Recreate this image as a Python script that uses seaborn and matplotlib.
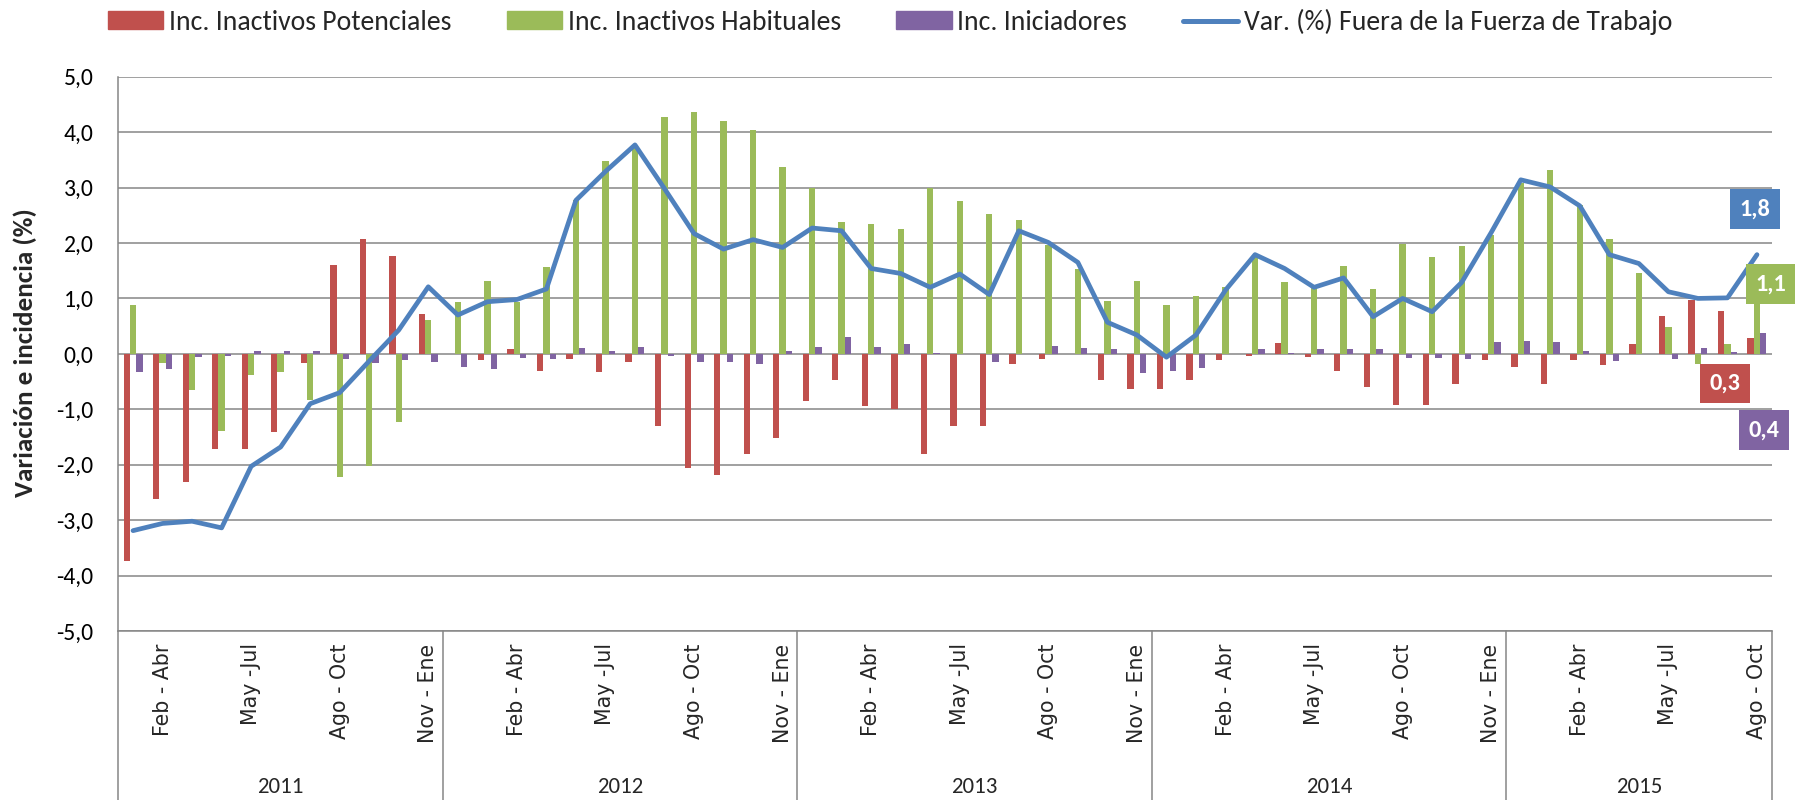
import matplotlib
matplotlib.use("Agg")
import matplotlib.pyplot as plt
import matplotlib.transforms as mtransforms
import numpy as np
import pandas as pd
import seaborn as sns

from matplotlib import font_manager
from matplotlib.lines import Line2D
from matplotlib.patches import Patch


# --- data ---
years = ['2011', '2012', '2013', '2014', '2015']
year_months = ['Dic - Feb', 'Ene - Mar', 'Feb - Abr', 'Mar - May', 'Abr - Jun', 'May -Jul',
               'Jun - Ago', 'Jul - Sep', 'Ago - Oct', 'Sep - Nov', 'Oct - Dic', 'Nov - Ene']
periods_2011 = year_months[1:]
periods_2015 = year_months[:9]

series_names = ['Inc. Inactivos Potenciales', 'Inc. Inactivos Habituales', 'Inc. Iniciadores']
line_name = 'Var. (%) Fuera de la Fuerza de Trabajo'

inc_potenciales = [-3.73, -2.62, -2.32, -1.72, -1.72, -1.41, -0.16, 1.61, 2.08, 1.76, 0.71,
                   0.00, -0.11, 0.08, -0.31, -0.09, -0.32, -0.14, -1.30, -2.06, -2.19, -1.81, -1.52,
                   -0.85, -0.47, -0.94, -0.99, -1.81, -1.30, -1.30, -0.18, -0.09, 0.00, -0.47, -0.64,
                   -0.64, -0.47, -0.11, -0.03, 0.19, -0.06, -0.31, -0.59, -0.92, -0.92, -0.54, -0.11,
                   -0.23, -0.55, -0.11, -0.20, 0.17, 0.69, 0.97, 0.78, 0.28]
inc_habituales = [0.89, -0.16, -0.66, -1.39, -0.38, -0.33, -0.83, -2.22, -2.03, -1.23, 0.61,
                  0.93, 1.32, 0.94, 1.56, 2.77, 3.48, 3.72, 4.28, 4.37, 4.21, 4.04, 3.37,
                  2.99, 2.37, 2.34, 2.25, 2.99, 2.75, 2.52, 2.41, 1.96, 1.53, 0.96, 1.31,
                  0.89, 1.05, 1.20, 1.79, 1.29, 1.20, 1.59, 1.17, 1.99, 1.74, 1.94, 2.14,
                  3.08, 3.32, 2.68, 2.08, 1.45, 0.48, -0.18, 0.18, 1.10]
inc_iniciadores = [-0.33, -0.28, -0.06, -0.04, 0.05, 0.06, 0.06, -0.09, -0.16, -0.12, -0.14,
                   -0.23, -0.28, -0.08, -0.09, 0.11, 0.06, 0.12, -0.03, -0.14, -0.15, -0.18, 0.06,
                   0.12, 0.30, 0.13, 0.17, 0.01, -0.01, -0.15, 0.00, 0.14, 0.11, 0.08, -0.34,
                   -0.31, -0.25, 0.00, 0.08, 0.01, 0.08, 0.09, 0.08, -0.08, -0.07, -0.10, 0.21,
                   0.23, 0.22, 0.06, -0.13, 0.00, -0.09, 0.11, 0.03, 0.38]
var_fuera_ft = [-3.19, -3.06, -3.02, -3.14, -2.03, -1.68, -0.90, -0.70, -0.13, 0.43, 1.21,
                0.70, 0.94, 0.98, 1.17, 2.77, 3.29, 3.77, 2.98, 2.17, 1.89, 2.06, 1.92,
                2.27, 2.22, 1.54, 1.45, 1.20, 1.44, 1.07, 2.22, 2.01, 1.65, 0.57, 0.34,
                -0.06, 0.34, 1.15, 1.79, 1.54, 1.20, 1.37, 0.67, 1.00, 0.76, 1.29, 2.19,
                3.14, 3.01, 2.67, 1.79, 1.63, 1.12, 1.00, 1.01, 1.79]

colors = ['#C0504D', '#9BBB59', '#8064A2']
line_color = '#4F81BD'
grid_color = '#868686'


def pick_font(*names):
    available = {f.name for f in font_manager.fontManager.ttflist}
    for name in names:
        if name in available:
            return name
    return 'DejaVu Sans'


calibri_like = pick_font('Carlito', 'Lato', 'Open Sans')

# periods grouped by year
year_periods = {}
for y in years:
    if y == '2011':
        year_periods[y] = periods_2011
    elif y == '2015':
        year_periods[y] = periods_2015
    else:
        year_periods[y] = year_months

keys, month_labels = [], []
for y in years:
    for p in year_periods[y]:
        keys.append(f'{y} | {p}')
        month_labels.append(p)
n = len(keys)

df = pd.DataFrame({
    'periodo': keys * 3,
    'serie': np.repeat(series_names, n),
    'valor': inc_potenciales + inc_habituales + inc_iniciadores,
})

sns.set_style('white')
plt.rcParams['font.family'] = [calibri_like, 'DejaVu Sans']

fig, ax = plt.subplots(figsize=(18, 8), dpi=100)
fig.subplots_adjust(left=0.0657, right=0.9843, top=0.9041, bottom=0.2113)

sns.barplot(data=df, x='periodo', y='valor', hue='serie', order=keys, hue_order=series_names,
            palette=colors, width=0.645, saturation=1, linewidth=0, errorbar=None,
            legend=False, ax=ax)
sns.lineplot(x=np.arange(n), y=var_fuera_ft, color=line_color, lw=3.4, ax=ax,
             solid_capstyle='round', solid_joinstyle='round')

# y axis
ax.set_ylim(-5, 5)
ax.set_xlim(-0.5, n - 0.5)
yticks = np.arange(-5, 5.1, 1)
ax.set_yticks(yticks)
ax.set_yticklabels([f'{t:.1f}'.replace('.', ',') for t in yticks])
ax.yaxis.grid(True, color=grid_color, lw=1.1)
ax.set_axisbelow(True)
ax.tick_params(axis='y', direction='out', length=5.8, width=1.1, color=grid_color,
               pad=12, labelsize=17, labelcolor='black')
for side in ['top', 'right']:
    ax.spines[side].set_visible(False)
for side in ['left', 'bottom']:
    ax.spines[side].set_color(grid_color)
    ax.spines[side].set_linewidth(1.1)

# category axis: month ranges every third period, years underneath
tick_pos = [i for i in range(n) if i % 3 == 1]
ax.set_xticks(tick_pos)
ax.set_xticklabels([month_labels[i] for i in tick_pos], rotation=90, fontsize=14.8,
                   family='DejaVu Sans')
ax.tick_params(axis='x', length=0, pad=9)
ax.set_xlabel('')
ax.set_ylabel('')

trans = mtransforms.blended_transform_factory(ax.transData, ax.transAxes)
counts = [len(year_periods[y]) for y in years]
bounds = np.concatenate([[0], np.cumsum(counts)]) - 0.5
for b in bounds:
    ax.plot([b, b], [0, -0.31], transform=trans, color=grid_color, lw=1.1, clip_on=False)
for y, lo, hi in zip(years, bounds[:-1], bounds[1:]):
    ax.text((lo + hi) / 2, -0.281, y, transform=trans, ha='center', va='center', fontsize=16.5)

fig.text(0.0139, 0.559, 'Variación e incidencia (%)', rotation=90, ha='center', va='center',
         fontsize=19.5, fontweight='bold')

# value labels for the last period
last = n - 1
bar_shift = 0.645 / 3
label_specs = [
    (var_fuera_ft[last], last, line_color, (-1.5, 33)),
    (inc_habituales[last], last, colors[1], (10, 6.4)),
    (inc_potenciales[last], last - bar_shift, colors[0], (-18.5, -32.4)),
    (inc_iniciadores[last], last + bar_shift, colors[2], (0.5, -70)),
]
for val, xpos, col, offset in label_specs:
    ax.annotate(f'{val:.1f}'.replace('.', ','), xy=(xpos, val), xytext=offset,
                textcoords='offset points', ha='center', va='center', color='white',
                fontsize=17.5, fontweight='bold', annotation_clip=False,
                bbox=dict(boxstyle='square,pad=0.38', fc=col, ec='none'))

handles = [Patch(color=c, label=s) for c, s in zip(colors, series_names)]
handles.append(Line2D([0], [0], color=line_color, lw=3.6, label=line_name))
fig.legend(handles=handles, loc='center', bbox_to_anchor=(0.4944, 0.9725), ncol=4,
           frameon=False, fontsize=20, handlelength=2.0, handleheight=0.6,
           handletextpad=0.2, columnspacing=2.0)

fig.savefig('out.png', dpi=100)
